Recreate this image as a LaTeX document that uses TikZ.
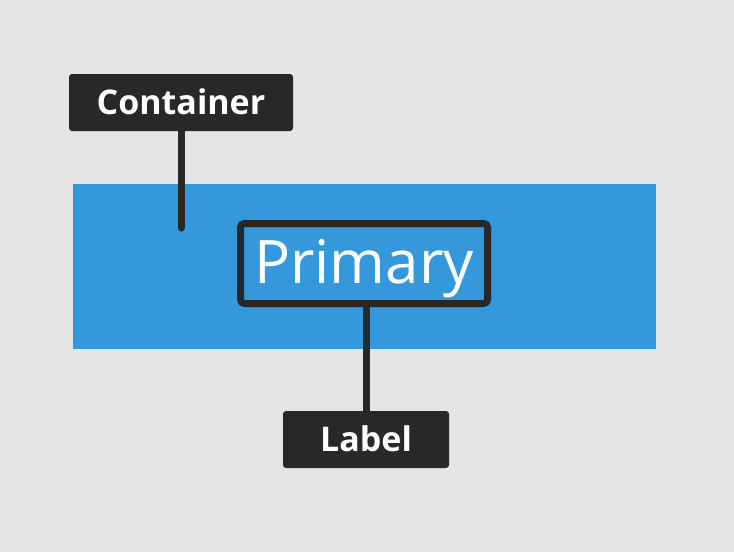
\documentclass[tikz,border=0pt]{standalone}
\usepackage{fontspec}
\setmainfont{Open Sans}
\definecolor{bgGray}{HTML}{E5E5E5}
\definecolor{boxBlue}{HTML}{3598DB}
\definecolor{tagDark}{HTML}{282828}
\begin{document}
\begin{tikzpicture}[x=1pt,y=-1pt]
        \tikzstyle{tag}=[fill=tagDark,rounded corners=3pt,text=white,font=\fontsize{34}{40}\selectfont\bfseries,inner sep=0pt,text height=25pt,text depth=1pt]
        \tikzstyle{leader}=[draw=tagDark,line width=7pt]
        \fill[bgGray] (0,0) rectangle (734,552);
        \useasboundingbox (0,0) rectangle (734,552);
        % container and its label
        \node [fill=boxBlue,minimum width=583pt,minimum height=165pt,inner sep=0pt] (container) at (364.5,266.5) {};
        \node [draw=tagDark,line width=7pt,rounded corners=4pt,minimum width=247pt,minimum height=80pt,inner sep=0pt,text=white,font=\fontsize{60}{66}\selectfont,text height=43pt,text depth=4pt] (primary) at (364,263.5) {Primary};
        % callout tags
        \node [tag,minimum width=224pt,minimum height=57pt] (ctag) at (181,102.5) {Container};
        \node [tag,minimum width=166pt,minimum height=57pt] (ltag) at (366,439.5) {Label};
        \coordinate (cend) at (181,228);
        \path[leader,line cap=round] (ctag.south) -- (cend);
        \path[leader] (primary.south -| ltag.north) -- (ltag.north);
      \end{tikzpicture}
\end{document}
